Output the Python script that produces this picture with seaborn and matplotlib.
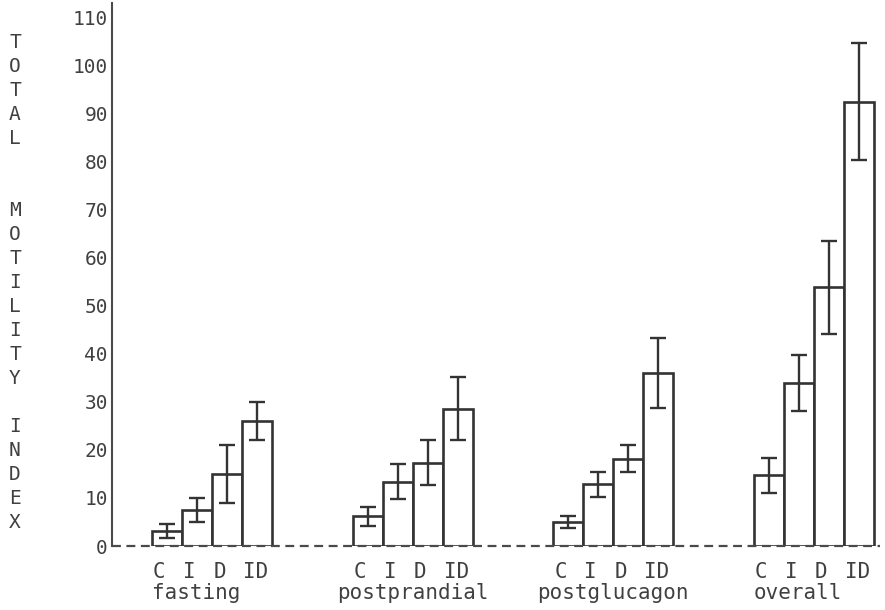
import matplotlib
matplotlib.use("Agg")
import matplotlib.pyplot as plt
import seaborn as sns
import pandas as pd
import numpy as np

# ---- data ----
periods = ["fasting", "postprandial", "postglucagon", "overall"]
conditions = ["C", "I", "D", "ID"]
fasting_mean = [3.1, 7.5, 15.0, 26.0]
fasting_err = [1.4, 2.5, 6.0, 4.0]
postprandial_mean = [6.2, 13.4, 17.3, 28.6]
postprandial_err = [2.0, 3.7, 4.7, 6.5]
postglucagon_mean = [5.0, 12.9, 18.2, 36.0]
postglucagon_err = [1.3, 2.6, 2.9, 7.3]
overall_mean = [14.7, 33.9, 53.8, 92.5]
overall_err = [3.6, 5.9, 9.7, 12.2]
yticks = list(range(0, 111, 10))
ylabel_text = "TOTAL  MOTILITY INDEX"

means = [fasting_mean, postprandial_mean, postglucagon_mean, overall_mean]
errs = [fasting_err, postprandial_err, postglucagon_err, overall_err]
rows = []
for p, m, e in zip(periods, means, errs):
    for c, mv, ev in zip(conditions, m, e):
        rows.append({"period": p, "cond": c, "value": mv, "err": ev})
df = pd.DataFrame(rows)

# ---- style ----
sns.set_style("white")
MONO = ["DejaVu Sans Mono"]
plt.rcParams["font.family"] = MONO
INK = "#333333"
TXT = "#404040"

fig = plt.figure(figsize=(8.85, 6.1), dpi=100)
W, H = 885, 610
ax = fig.add_axes([112 / W, 64 / H, (880 - 112) / W, (607 - 64) / H])

sns.barplot(data=df, x="period", y="value", hue="cond", order=periods,
            hue_order=conditions, palette={c: "white" for c in conditions},
            saturation=1, edgecolor=INK, linewidth=1.9, width=0.6, gap=0,
            errorbar=None, legend=False, ax=ax)
bar_conts = list(ax.containers)

# error bars on each bar
for j, cont in enumerate(bar_conts):
    c = conditions[j]
    for bar, p in zip(cont, periods):
        row = df[(df.period == p) & (df.cond == c)].iloc[0]
        xc = bar.get_x() + bar.get_width() / 2
        ax.errorbar(xc, row.value, yerr=row.err, fmt="none", ecolor=INK,
                    elinewidth=1.7, capsize=5.5, capthick=1.7, zorder=5)

ax.set_xlim(-0.5, 3.33)
ax.set_ylim(0, 113)
ax.set_yticks(yticks)
ax.set_yticklabels([str(t) for t in yticks], fontsize=14, color=TXT)
ax.tick_params(axis="y", length=0, pad=3)
ax.set_xticks([])
ax.set_xlabel("")
ax.set_ylabel("")
for s in ["top", "right", "bottom"]:
    ax.spines[s].set_visible(False)
ax.spines["left"].set_color("#4a4a4a")
ax.spines["left"].set_linewidth(1.5)

# dashed baseline
ax.plot([-0.5, 3.33], [0, 0], color="#4a4a4a", lw=1.6,
        ls=(0, (4, 2.5)), clip_on=False, zorder=1)

# per-bar letters and group names
px_per_y = (607 - 64) / 113.0
px_per_x = (880 - 112) / 3.83
letter_y = -26 / px_per_y
name_y = -47 / px_per_y
for j, cont in enumerate(bar_conts):
    for bar in cont:
        ax.text(bar.get_x() + 1.0 / px_per_x, letter_y, conditions[j],
                ha="left", va="center", fontsize=15, color=TXT, clip_on=False)
for i, p in enumerate(periods):
    left = bar_conts[0][i].get_x()
    right = bar_conts[-1][i].get_x() + bar_conts[-1][i].get_width()
    if len(p) * 13.7 / px_per_x < (right - left):
        ax.text(left, name_y, p, ha="left", va="center", fontsize=15,
                color=TXT, clip_on=False)
    else:
        ax.text((left + right) / 2, name_y, p, ha="center", va="center",
                fontsize=15, color=TXT, clip_on=False)

# vertical stacked y label
for i, ch in enumerate(ylabel_text):
    if ch == " ":
        continue
    fig.text(15 / W, 1 - (43 + i * 23.95) / H, ch, ha="center", va="center",
             fontsize=14, color=TXT)

fig.savefig("out.png", dpi=100)
